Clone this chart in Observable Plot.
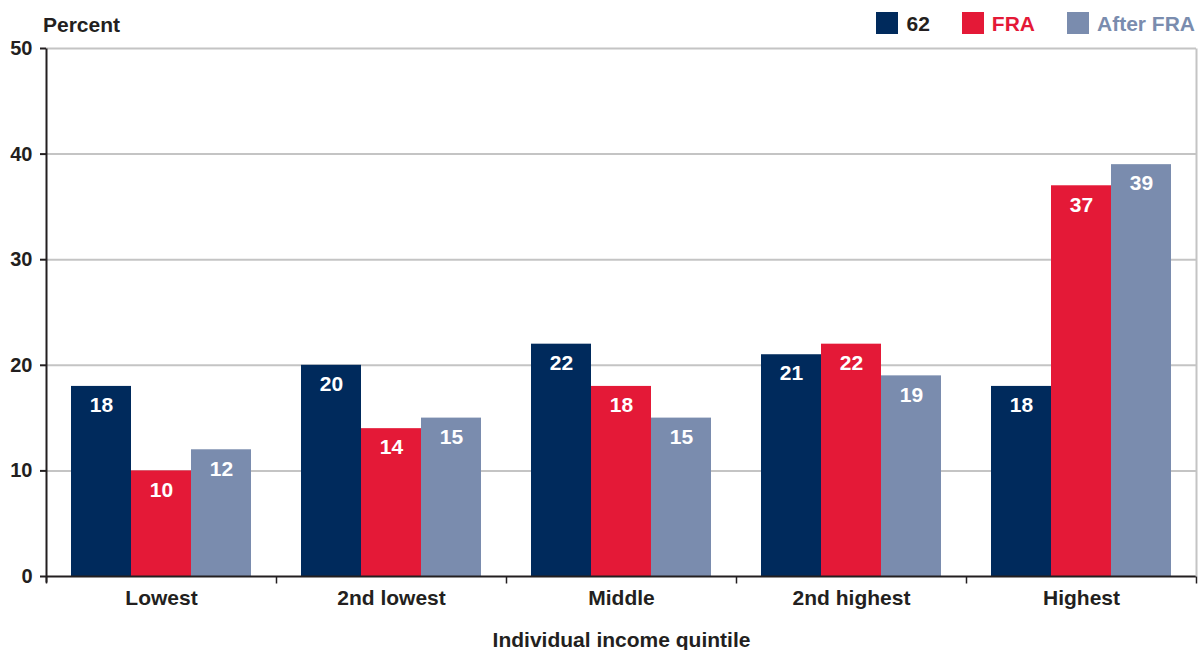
<!DOCTYPE html>
<html>
<head>
<meta charset="utf-8">
<script src="https://cdn.jsdelivr.net/npm/d3@7"></script>
<script src="https://cdn.jsdelivr.net/npm/@observablehq/plot@0.6"></script>
<style>
  body { margin: 0; background: #fff; font-family: "Liberation Sans", Arial, sans-serif; }
  #wrap { position: relative; width: 1199px; height: 650px; overflow: hidden; }
  #header { position: relative; height: 36px; }
  #ylabel { position: absolute; left: 43px; top: 14px; font-size: 21px; line-height: 21px; font-weight: bold; color: #231f20; }
  #legend { position: absolute; right: 4px; top: 11px; display: flex; align-items: center; }
  .item { display: flex; align-items: center; margin-left: 32px; }
  .item:first-child { margin-left: 0; }
  .sw { width: 22px; height: 22px; margin-right: 8px; }
  .lab { font-size: 21px; line-height: 22px; font-weight: bold; padding-top: 2px; }
  #chart svg { display: block; }
</style>
</head>
<body>
<div id="wrap">
  <div id="header">
    <div id="ylabel">Percent</div>
    <div id="legend"></div>
  </div>
  <div id="chart"></div>
</div>
<script>
const quintiles = ["Lowest", "2nd lowest", "Middle", "2nd highest", "Highest"];
const seriesNames = ["62", "FRA", "After FRA"];
const values62 = [18, 20, 22, 21, 18];
const valuesFRA = [10, 14, 18, 22, 37];
const valuesAfterFRA = [12, 15, 15, 19, 39];
const seriesColors = ["#002a5c", "#e41937", "#7a8cae"];
const legendTextColors = ["#231f20", "#e41937", "#7a8cae"];
const yTicks = [0, 10, 20, 30, 40, 50];
const gridTicks = [10, 20, 30, 40, 50];
const yLabel = "Percent";
const xLabel = "Individual income quintile";

const seriesValues = [values62, valuesFRA, valuesAfterFRA];
const rows = quintiles.flatMap((q, i) =>
  seriesNames.map((s, j) => ({quintile: q, series: s, value: seriesValues[j][i]}))
);

// legend
const legend = document.getElementById("legend");
seriesNames.forEach((s, j) => {
  const item = document.createElement("div");
  item.className = "item";
  const sw = document.createElement("div");
  sw.className = "sw";
  sw.style.background = seriesColors[j];
  const lab = document.createElement("div");
  lab.className = "lab";
  lab.style.color = legendTextColors[j];
  lab.textContent = s;
  item.appendChild(sw);
  item.appendChild(lab);
  legend.appendChild(item);
});
document.getElementById("ylabel").textContent = yLabel;

const innerH = 614 - 12 - 74;
const vline = (from, to) => ({draw(ctx) { ctx.moveTo(0, from); ctx.lineTo(0, to); }});

const chart = Plot.plot({
  width: 1199,
  height: 614,
  marginTop: 12,
  marginBottom: 74,
  marginLeft: 45,
  marginRight: 2,
  style: {fontFamily: "'Liberation Sans', Arial, sans-serif", fontSize: "20px", fontWeight: "bold", color: "#231f20", background: "white", overflow: "visible"},
  fx: {domain: quintiles, padding: 0, label: null},
  x: {domain: seriesNames, paddingInner: 0, paddingOuter: 0.39, axis: null},
  y: {domain: [0, 50]},
  color: {domain: seriesNames, range: seriesColors},
  marks: [
    Plot.gridY({ticks: gridTicks, stroke: "#c4c4c4", strokeOpacity: 1, strokeWidth: 2}),
    Plot.barY(rows, {fx: "quintile", x: "series", y: "value", fill: "series"}),
    Plot.text(rows, {fx: "quintile", x: "series", y: "value", text: d => String(d.value), dy: 19, fill: "white", fontSize: 21, fontWeight: "bold"}),
    Plot.ruleY([0], {stroke: "#231f20", strokeWidth: 2}),
    // right border of plot area
    Plot.dot([quintiles[quintiles.length - 1]], {fx: d => d, frameAnchor: "bottom-right", r: 1, symbol: vline(0, -innerH), fill: "none", stroke: "#c4c4c4", strokeWidth: 2}),
    // y axis line
    Plot.dot([quintiles[0]], {fx: d => d, frameAnchor: "bottom-left", r: 1, symbol: vline(6, -innerH), fill: "none", stroke: "#231f20", strokeWidth: 2}),
    // ticks between groups
    Plot.dot([0], {frameAnchor: "bottom-left", r: 1, symbol: vline(0, 7), fill: "none", stroke: "#231f20", strokeWidth: 1.5}),
    Plot.dot([quintiles[quintiles.length - 1]], {fx: d => d, frameAnchor: "bottom-right", r: 1, symbol: vline(0, 7), fill: "none", stroke: "#231f20", strokeWidth: 1.5}),
    Plot.axisY({ticks: yTicks, tickSize: 6, tickPadding: 8, label: null, fontSize: 20, fontWeight: "bold", strokeWidth: 2}),
    Plot.axisFx({anchor: "bottom", tickSize: 0, tickPadding: 14, label: xLabel, labelAnchor: "center", labelOffset: 70, fontSize: 21, fontWeight: "bold"})
  ]
});
document.getElementById("chart").appendChild(chart);
</script>
</body>
</html>
